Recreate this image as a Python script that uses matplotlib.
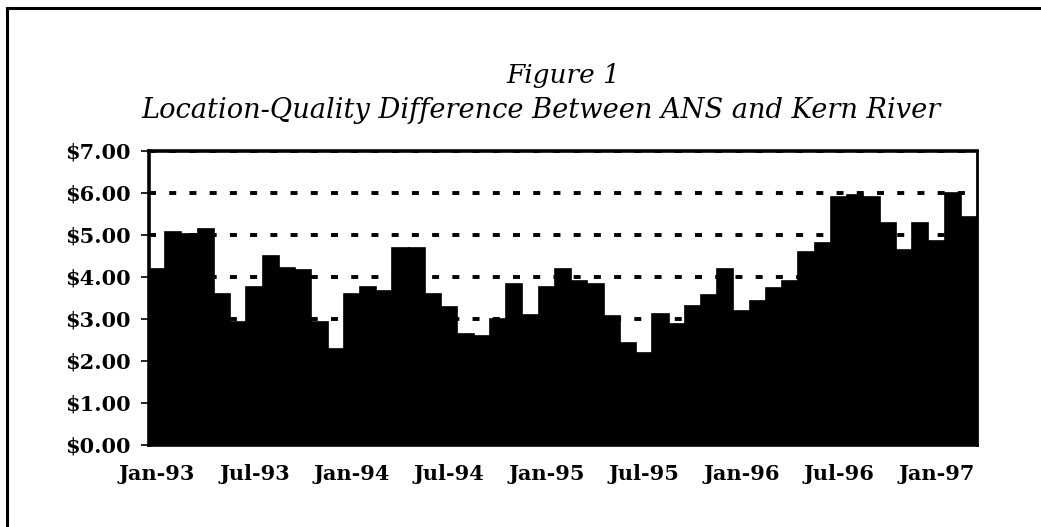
import matplotlib
matplotlib.use("Agg")
import matplotlib.pyplot as plt
from matplotlib.lines import Line2D

# monthly spread, Jan-93 .. Mar-97 ($/bbl)
months = [
    "Jan-93", "Feb-93", "Mar-93", "Apr-93", "May-93", "Jun-93",
    "Jul-93", "Aug-93", "Sep-93", "Oct-93", "Nov-93", "Dec-93",
    "Jan-94", "Feb-94", "Mar-94", "Apr-94", "May-94", "Jun-94",
    "Jul-94", "Aug-94", "Sep-94", "Oct-94", "Nov-94", "Dec-94",
    "Jan-95", "Feb-95", "Mar-95", "Apr-95", "May-95", "Jun-95",
    "Jul-95", "Aug-95", "Sep-95", "Oct-95", "Nov-95", "Dec-95",
    "Jan-96", "Feb-96", "Mar-96", "Apr-96", "May-96", "Jun-96",
    "Jul-96", "Aug-96", "Sep-96", "Oct-96", "Nov-96", "Dec-96",
    "Jan-97", "Feb-97", "Mar-97",
]
difference = [
    4.19, 5.07, 5.03, 5.15, 3.60, 2.93,
    3.76, 4.51, 4.22, 4.16, 2.93, 2.29,
    3.60, 3.76, 3.66, 4.70, 4.70, 3.59,
    3.29, 2.64, 2.60, 2.99, 3.84, 3.10,
    3.76, 4.20, 3.90, 3.84, 3.07, 2.43,
    2.19, 3.13, 2.89, 3.30, 3.57, 4.18,
    3.19, 3.44, 3.74, 3.90, 4.59, 4.81,
    5.91, 5.95, 5.91, 5.28, 4.65, 5.28,
    4.85, 5.99, 5.44,
]
y_ticks = [0, 1, 2, 3, 4, 5, 6, 7]
label_every = 6

serif = ["DejaVu Serif"]

fig = plt.figure(figsize=(10.41, 5.27), dpi=100)
ax = fig.add_axes([0.1431, 0.1556, 0.7954, 0.5579])

x = list(range(len(difference)))
ax.bar(x, difference, width=1.0, color="black", edgecolor="black", linewidth=1.2, zorder=3)

ax.set_xlim(-0.5, len(difference) - 0.5)
ax.set_ylim(0, 7)
ax.set_yticks(y_ticks)
ax.set_yticklabels([f"${v:.2f}" for v in y_ticks], family=serif, fontsize=15, fontweight="bold")
ax.set_xticks(x[::label_every])
ax.set_xticklabels(months[::label_every], family=serif, fontsize=15, fontweight="bold")

ax.tick_params(axis="y", direction="out", length=6, width=1.2, pad=7)
ax.tick_params(axis="x", length=0, pad=14)

ax.yaxis.grid(True, color="black", linewidth=2.8, linestyle=(0, (1.8, 3.4)), zorder=1)
ax.set_axisbelow(True)

for side in ["left", "top", "right", "bottom"]:
    ax.spines[side].set_linewidth(2.6)
ax.spines["right"].set_linewidth(2.0)

fig.text(0.541, 1 - 83 / 527, "Figure 1", family=serif, style="italic",
         fontsize=19, ha="center", va="baseline")
fig.text(0.52, 1 - 118 / 527, "Location-Quality Difference Between ANS and Kern River",
         family=serif, style="italic", fontsize=19.6, ha="center", va="baseline")

# page frame (left and top edges)
fig.add_artist(Line2D([7 / 1041, 7 / 1041], [0, 1 - 8 / 527], transform=fig.transFigure,
                      color="black", linewidth=2.2))
fig.add_artist(Line2D([7 / 1041, 1], [1 - 8 / 527, 1 - 8 / 527], transform=fig.transFigure,
                      color="black", linewidth=2.2))

fig.savefig("out.png", dpi=100)
